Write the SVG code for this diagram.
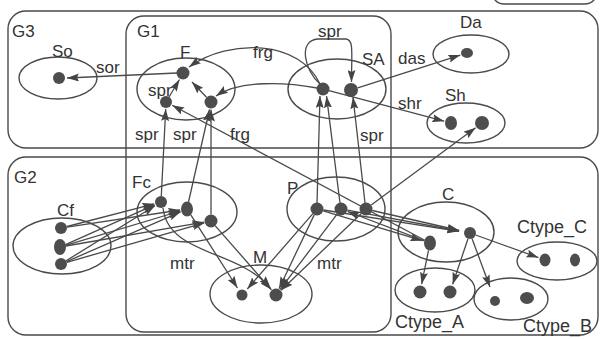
<svg xmlns="http://www.w3.org/2000/svg" width="600" height="339" viewBox="0 0 600 339">
  <style>
    .grp { fill: none; stroke: #4a4a4a; stroke-width: 1.4; }
    .set { fill: none; stroke: #4a4a4a; stroke-width: 1.4; }
    .dot { fill: #4d4d4d; }
    .lbl { font-family: "Liberation Sans", Arial, sans-serif; font-size: 17px; fill: #333; }
    .big { font-size: 18px; }
    .edge { fill: none; stroke: #4a4a4a; stroke-width: 1.3; marker-end: url(#ah); }
  </style>
  <defs>
    <marker id="ah" markerUnits="userSpaceOnUse" markerWidth="12" markerHeight="8" refX="12" refY="4" orient="auto">
      <path d="M0,0 L12,4 L0,8 L2,4 z" fill="#444"/>
    </marker>
  </defs>
  <rect x="0" y="0" width="600" height="339" fill="#ffffff"/>

  <!-- group frames -->
  <rect id="title-box" class="grp" x="492" y="-30" width="105" height="34" rx="12"/>
  <g id="G3">
    <rect class="grp" x="8" y="11" width="590" height="137" rx="18"/>
    <text class="lbl" x="12" y="37">G3</text>
  </g>
  <g id="G2">
    <rect class="grp" x="8" y="157" width="590" height="178" rx="18"/>
    <text class="lbl" x="14" y="183">G2</text>
  </g>
  <g id="G1">
    <rect class="grp" x="126" y="16" width="265" height="316" rx="18"/>
    <text class="lbl" x="137" y="37">G1</text>
  </g>

  <!-- sets and their members -->
  <g id="So">
    <ellipse class="set" cx="58" cy="78" rx="39" ry="21"/>
    <circle class="dot" cx="59" cy="78" r="6"/>
    <text class="lbl" x="52" y="57">So</text>
  </g>
  <g id="F">
    <ellipse class="set" cx="186" cy="89" rx="49" ry="31"/>
    <circle class="dot" cx="183" cy="73" r="6.5"/>
    <circle class="dot" cx="166" cy="102" r="6"/>
    <circle class="dot" cx="211" cy="102" r="6.5"/>
    <text class="lbl" x="180" y="58">F</text>
  </g>
  <g id="SA">
    <ellipse class="set" cx="337" cy="89" rx="49" ry="30"/>
    <circle class="dot" cx="323" cy="89" r="6.5"/>
    <circle class="dot" cx="351" cy="90" r="7"/>
    <text class="lbl" x="362" y="65">SA</text>
  </g>
  <g id="Da">
    <ellipse class="set" cx="471" cy="54" rx="38" ry="19"/>
    <ellipse class="dot" cx="467" cy="53" rx="6" ry="5"/>
    <text class="lbl" x="460" y="28">Da</text>
  </g>
  <g id="Sh">
    <ellipse class="set" cx="466" cy="123" rx="39" ry="20"/>
    <ellipse class="dot" cx="451" cy="123" rx="6" ry="7"/>
    <circle class="dot" cx="482" cy="123" r="7"/>
    <text class="lbl" x="445" y="101">Sh</text>
  </g>
  <g id="Fc">
    <ellipse class="set" cx="187" cy="212" rx="50" ry="30"/>
    <circle class="dot" cx="161" cy="202" r="6"/>
    <ellipse class="dot" cx="187" cy="209" rx="6" ry="7.5"/>
    <circle class="dot" cx="211" cy="221" r="6.5"/>
    <text class="lbl" x="132" y="188">Fc</text>
  </g>
  <g id="Cf">
    <ellipse class="set" cx="62" cy="246" rx="49" ry="28"/>
    <circle class="dot" cx="61" cy="228" r="6"/>
    <ellipse class="dot" cx="60" cy="247" rx="6" ry="8"/>
    <circle class="dot" cx="61" cy="264" r="6"/>
    <text class="lbl" x="57" y="216">Cf</text>
  </g>
  <g id="P">
    <ellipse class="set" cx="336" cy="209" rx="49" ry="32"/>
    <circle class="dot" cx="317" cy="209" r="6.5"/>
    <circle class="dot" cx="341" cy="209" r="6.5"/>
    <circle class="dot" cx="366" cy="209" r="6.5"/>
    <text class="lbl" x="287" y="194">P</text>
  </g>
  <g id="M">
    <ellipse class="set" cx="261" cy="294" rx="51" ry="29"/>
    <circle class="dot" cx="242" cy="295" r="5.5"/>
    <circle class="dot" cx="276" cy="295" r="6.5"/>
    <text class="lbl" x="253" y="263">M</text>
  </g>
  <g id="C">
    <ellipse class="set" cx="446" cy="232" rx="48" ry="30"/>
    <ellipse class="dot" cx="430" cy="243" rx="6" ry="7.5"/>
    <circle class="dot" cx="470" cy="233" r="6"/>
    <text class="lbl" x="442" y="200">C</text>
  </g>
  <g id="Ctype_A">
    <ellipse class="set" cx="435" cy="290" rx="40" ry="22"/>
    <circle class="dot" cx="420" cy="292" r="6.5"/>
    <circle class="dot" cx="450" cy="292" r="6.5"/>
    <text class="lbl big" x="395" y="328">Ctype_A</text>
  </g>
  <g id="Ctype_B">
    <ellipse class="set" cx="511" cy="299" rx="37" ry="21"/>
    <circle class="dot" cx="495" cy="301" r="5"/>
    <ellipse class="dot" cx="527" cy="298" rx="7" ry="6"/>
    <text class="lbl big" x="523" y="332">Ctype_B</text>
  </g>
  <g id="Ctype_C">
    <ellipse class="set" cx="557" cy="261" rx="40" ry="19"/>
    <ellipse class="dot" cx="545" cy="260" rx="5.5" ry="6.5"/>
    <ellipse class="dot" cx="575" cy="260" rx="5" ry="6.5"/>
    <text class="lbl big" x="517" y="233">Ctype_C</text>
  </g>

  <!-- relations -->
  <g id="connectors">
    <path class="edge" d="M177,73 L67,78"/>
    <path class="edge" d="M320,84 C300,40 230,38 189,67"/>
    <path class="edge" d="M317,88 C285,82 240,80 216,96"/>
    <path class="edge" d="M169,97 L179.5,79.5"/>
    <path class="edge" d="M206.5,97.3 L192,82"/>
    <path class="edge" d="M320,84 C304,70 298,40 318,39 L346,39 C354,40 351.5,52 351.5,82"/>
    <path class="edge" d="M357.7,87.9 L460.3,55.1"/>
    <path class="edge" d="M329,90.6 L444.2,121.2"/>
    <path class="edge" d="M371.2,205.1 L475.6,127.8"/>

    <path class="edge" d="M317,203 L320,96"/>
    <path class="edge" d="M340,203 L326.5,96"/>
    <path class="edge" d="M365,203 L353,97"/>

    <path class="edge" d="M161.3,196 L165.7,109"/>
    <path class="edge" d="M188.5,202 L209.5,109.5"/>
    <path class="edge" d="M211,214.5 L211,109.5"/>

    <path class="edge" d="M424.7,240.2 L172.2,105.3"/>

    <path class="edge" d="M67,226.5 L154.2,203.8"/>
    <path class="edge" d="M67,227.1 L180.1,210"/>
    <path class="edge" d="M65.5,244.6 L154.6,204.8"/>
    <path class="edge" d="M65.7,245.3 L180.3,211"/>
    <path class="edge" d="M65.9,246 L204.1,222.2"/>
    <path class="edge" d="M66.1,260.8 L155,205.7"/>
    <path class="edge" d="M66.5,261.6 L180.6,211.8"/>
    <path class="edge" d="M66.8,262.3 L204.3,222.9"/>

    <path class="edge" d="M190.8,214.9 L237.5,288"/>
    <path class="edge" d="M215.3,225.9 L271.4,289.7"/>
    <path class="edge" d="M163,208 C168,255 240,250 270,288"/>

    <path class="edge" d="M312.7,213.9 L247.3,289"/>
    <path class="edge" d="M314.2,214.9 L279,288.7"/>
    <path class="edge" d="M337.1,214.2 L280.2,289.4"/>
    <path class="edge" d="M361.3,213.5 L281.1,290.2"/>

    <path class="edge" d="M323.4,210 L459,231.3"/>
    <path class="edge" d="M347.4,210.2 L459,231"/>
    <path class="edge" d="M372.3,210.5 L459.3,230.5"/>
    <path class="edge" d="M323.2,210.9 L422.3,240.7"/>
    <path class="edge" d="M424.4,240.9 L347.5,211.5"/>

    <path class="edge" d="M428.5,250.4 L421.6,284.2"/>
    <path class="edge" d="M468,238.7 L452.6,284.4"/>
    <path class="edge" d="M472,238.6 L490,287"/>
    <path class="edge" d="M475.6,235 L538.4,257.6"/>
  </g>

  <!-- relation labels -->
  <g id="edge-labels">
    <text class="lbl" x="96" y="73">sor</text>
    <text class="lbl" x="253" y="58">frg</text>
    <text class="lbl" x="148" y="96">spr</text>
    <text class="lbl" x="135" y="140">spr</text>
    <text class="lbl" x="173" y="140">spr</text>
    <text class="lbl" x="230" y="140">frg</text>
    <text class="lbl" x="318" y="37">spr</text>
    <text class="lbl" x="398" y="64">das</text>
    <text class="lbl" x="398" y="109">shr</text>
    <text class="lbl" x="360" y="141">spr</text>
    <text class="lbl" x="170" y="269">mtr</text>
    <text class="lbl" x="317" y="269">mtr</text>
  </g>
</svg>
